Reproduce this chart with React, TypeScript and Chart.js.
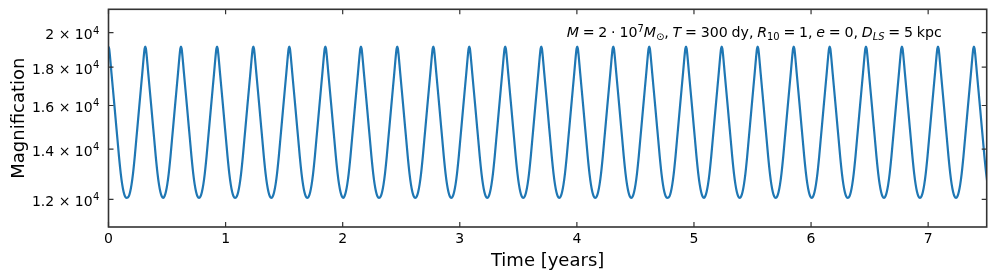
import React, { useEffect, useRef } from "react";
import { Chart, registerables } from "chart.js";

Chart.register(...registerables);

// Times (years) of the magnification peaks
const peakTimes = [
  0, 0.314, 0.619, 0.927, 1.237, 1.544, 1.852, 2.156, 2.466, 2.774, 3.081, 3.388, 3.696,
  4.003, 4.311, 4.618, 4.932, 5.237, 5.544, 5.852, 6.159, 6.469, 6.776, 7.084, 7.391,
];
// Shape of one half cycle (peak -> trough): time offset from the peak (years) and magnification
const halfCycleOffsets = [0, 0.0052, 0.0102, 0.0256, 0.0514, 0.077, 0.0893, 0.1047, 0.117, 0.1293, 0.1416, 0.154];
const halfCycleValues = [19160, 19054, 18776, 17659, 15941, 14394, 13705, 12990, 12567, 12277, 12105, 12057];

const xTickValues = [0, 1, 2, 3, 4, 5, 6, 7];
const xTickLabels = ["0", "1", "2", "3", "4", "5", "6", "7"];
const yTickValues = [12000, 14000, 16000, 18000, 20000];
const yTickMantissas = ["1.2", "1.4", "1.6", "1.8", "2"];
const yTickExponent = "4";
const xLimits = [0, 7.5];
const yLimits = [11026, 21487];

const xTitle = "Time [years]";
const yTitle = "Magnification";

type Seg = { t: string; it?: boolean; pos?: "sub" | "sup" };
const annotation: Seg[] = [
  { t: "M", it: true },
  { t: " = 2 · 10" },
  { t: "7", pos: "sup" },
  { t: "M", it: true },
  { t: "⊙", pos: "sub" },
  { t: ", " },
  { t: "T", it: true },
  { t: " = 300 dy, " },
  { t: "R", it: true },
  { t: "10", pos: "sub" },
  { t: " = 1, " },
  { t: "e", it: true },
  { t: " = 0, " },
  { t: "D", it: true },
  { t: "LS", it: true, pos: "sub" },
  { t: " = 5 kpc" },
];

function buildPoints() {
  const pts: { x: number; y: number }[] = [];
  peakTimes.forEach((t, k) => {
    if (k > 0) {
      for (let i = halfCycleOffsets.length - 2; i >= 1; i--) {
        pts.push({ x: t - halfCycleOffsets[i], y: halfCycleValues[i] });
      }
    }
    pts.push({ x: t, y: halfCycleValues[0] });
    for (let i = 1; i < halfCycleOffsets.length; i++) {
      pts.push({ x: t + halfCycleOffsets[i], y: halfCycleValues[i] });
    }
  });
  return pts;
}

const FONT = '"DejaVu Sans", "Liberation Sans", sans-serif';

const decor = {
  id: "decor",
  afterDraw(chart: any) {
    const { ctx, chartArea: a, scales } = chart;
    const xs = scales.x;
    const ys = scales.y;
    ctx.save();
    // inward ticks on all four sides
    ctx.strokeStyle = "#333";
    ctx.lineWidth = 1.2;
    ctx.beginPath();
    xTickValues.forEach((v) => {
      const px = xs.getPixelForValue(v);
      ctx.moveTo(px, a.bottom);
      ctx.lineTo(px, a.bottom - 5);
      ctx.moveTo(px, a.top);
      ctx.lineTo(px, a.top + 5);
    });
    yTickValues.forEach((v) => {
      const py = ys.getPixelForValue(v);
      ctx.moveTo(a.left, py);
      ctx.lineTo(a.left + 5, py);
      ctx.moveTo(a.right, py);
      ctx.lineTo(a.right - 5, py);
    });
    ctx.stroke();
    // frame
    ctx.lineWidth = 1.6;
    ctx.strokeRect(a.left, a.top, a.right - a.left, a.bottom - a.top);

    ctx.fillStyle = "#000";
    // x tick labels
    ctx.font = `14px ${FONT}`;
    ctx.textAlign = "center";
    ctx.textBaseline = "alphabetic";
    xTickValues.forEach((v, i) => {
      ctx.fillText(xTickLabels[i], xs.getPixelForValue(v), a.bottom + 16.3);
    });
    // y tick labels: mantissa × 10^exp
    yTickValues.forEach((v, i) => {
      const py = ys.getPixelForValue(v);
      const right = a.left - 9.2;
      ctx.font = `10px ${FONT}`;
      const wSup = ctx.measureText(yTickExponent).width;
      ctx.textAlign = "left";
      ctx.fillText(yTickExponent, right - wSup, py + 0.8);
      ctx.font = `14px ${FONT}`;
      ctx.textAlign = "right";
      ctx.fillText(`${yTickMantissas[i]} × 10`, right - wSup - 0.3, py + 6.6);
    });
    // axis titles
    ctx.font = `18px ${FONT}`;
    ctx.textAlign = "center";
    ctx.fillText(xTitle, (a.left + a.right) / 2, 265.5);
    ctx.save();
    ctx.translate(23.5, (a.top + a.bottom) / 2);
    ctx.rotate(-Math.PI / 2);
    ctx.fillText(yTitle, 0, 0);
    ctx.restore();

    // annotation: fixed font size, spaces adjusted so the line spans the measured width
    const size = 14.2;
    const targetWidth = 375;
    const fontFor = (s: Seg) => `${s.it ? "italic " : ""}${s.pos ? size * 0.7 : size}px ${FONT}`;
    let inkWidth = 0;
    let nSpaces = 0;
    annotation.forEach((s) => {
      ctx.font = fontFor(s);
      s.t.split(" ").forEach((word, j) => {
        if (j > 0) nSpaces++;
        inkWidth += ctx.measureText(word).width;
      });
    });
    const spaceW = nSpaces ? Math.max(1.5, (targetWidth - inkWidth) / nSpaces) : 0;
    let x = a.right - 45 - targetWidth;
    const baseY = 36.7;
    ctx.textAlign = "left";
    annotation.forEach((s) => {
      ctx.font = fontFor(s);
      const dy = s.pos === "sup" ? -0.36 * size : s.pos === "sub" ? 0.2 * size : 0;
      s.t.split(" ").forEach((word, j) => {
        if (j > 0) x += spaceW;
        if (word) ctx.fillText(word, x, baseY + dy);
        x += ctx.measureText(word).width;
      });
    });
    ctx.restore();
  },
};

export default function App() {
  const ref = useRef<HTMLCanvasElement | null>(null);
  useEffect(() => {
    document.body.style.margin = "0";
    const canvas = ref.current!;
    const chart = new Chart(canvas, {
      type: "line",
      data: {
        datasets: [
          {
            data: buildPoints(),
            borderColor: "#1f77b4",
            borderWidth: 2.2,
            pointRadius: 0,
            fill: false,
            cubicInterpolationMode: "monotone",
          },
        ],
      },
      options: {
        responsive: false,
        maintainAspectRatio: false,
        animation: false,
        devicePixelRatio: 1,
        layout: { padding: { left: 0, top: 9.3, right: 9.3, bottom: 0 } },
        plugins: { legend: { display: false }, tooltip: { enabled: false } },
        scales: {
          x: {
            type: "linear",
            min: xLimits[0],
            max: xLimits[1],
            ticks: { display: false },
            grid: { display: false, drawTicks: false },
            border: { display: false },
            afterFit: (s: any) => {
              s.height = 53;
            },
          },
          y: {
            type: "logarithmic",
            min: yLimits[0],
            max: yLimits[1],
            ticks: { display: false },
            grid: { display: false, drawTicks: false },
            border: { display: false },
            afterFit: (s: any) => {
              s.width = 108.5;
            },
          },
        },
      },
      plugins: [decor],
    } as any);
    return () => chart.destroy();
  }, []);
  return (
    <div style={{ width: 996, height: 280 }}>
      <canvas ref={ref} width={996} height={280} style={{ display: "block" }} />
    </div>
  );
}
